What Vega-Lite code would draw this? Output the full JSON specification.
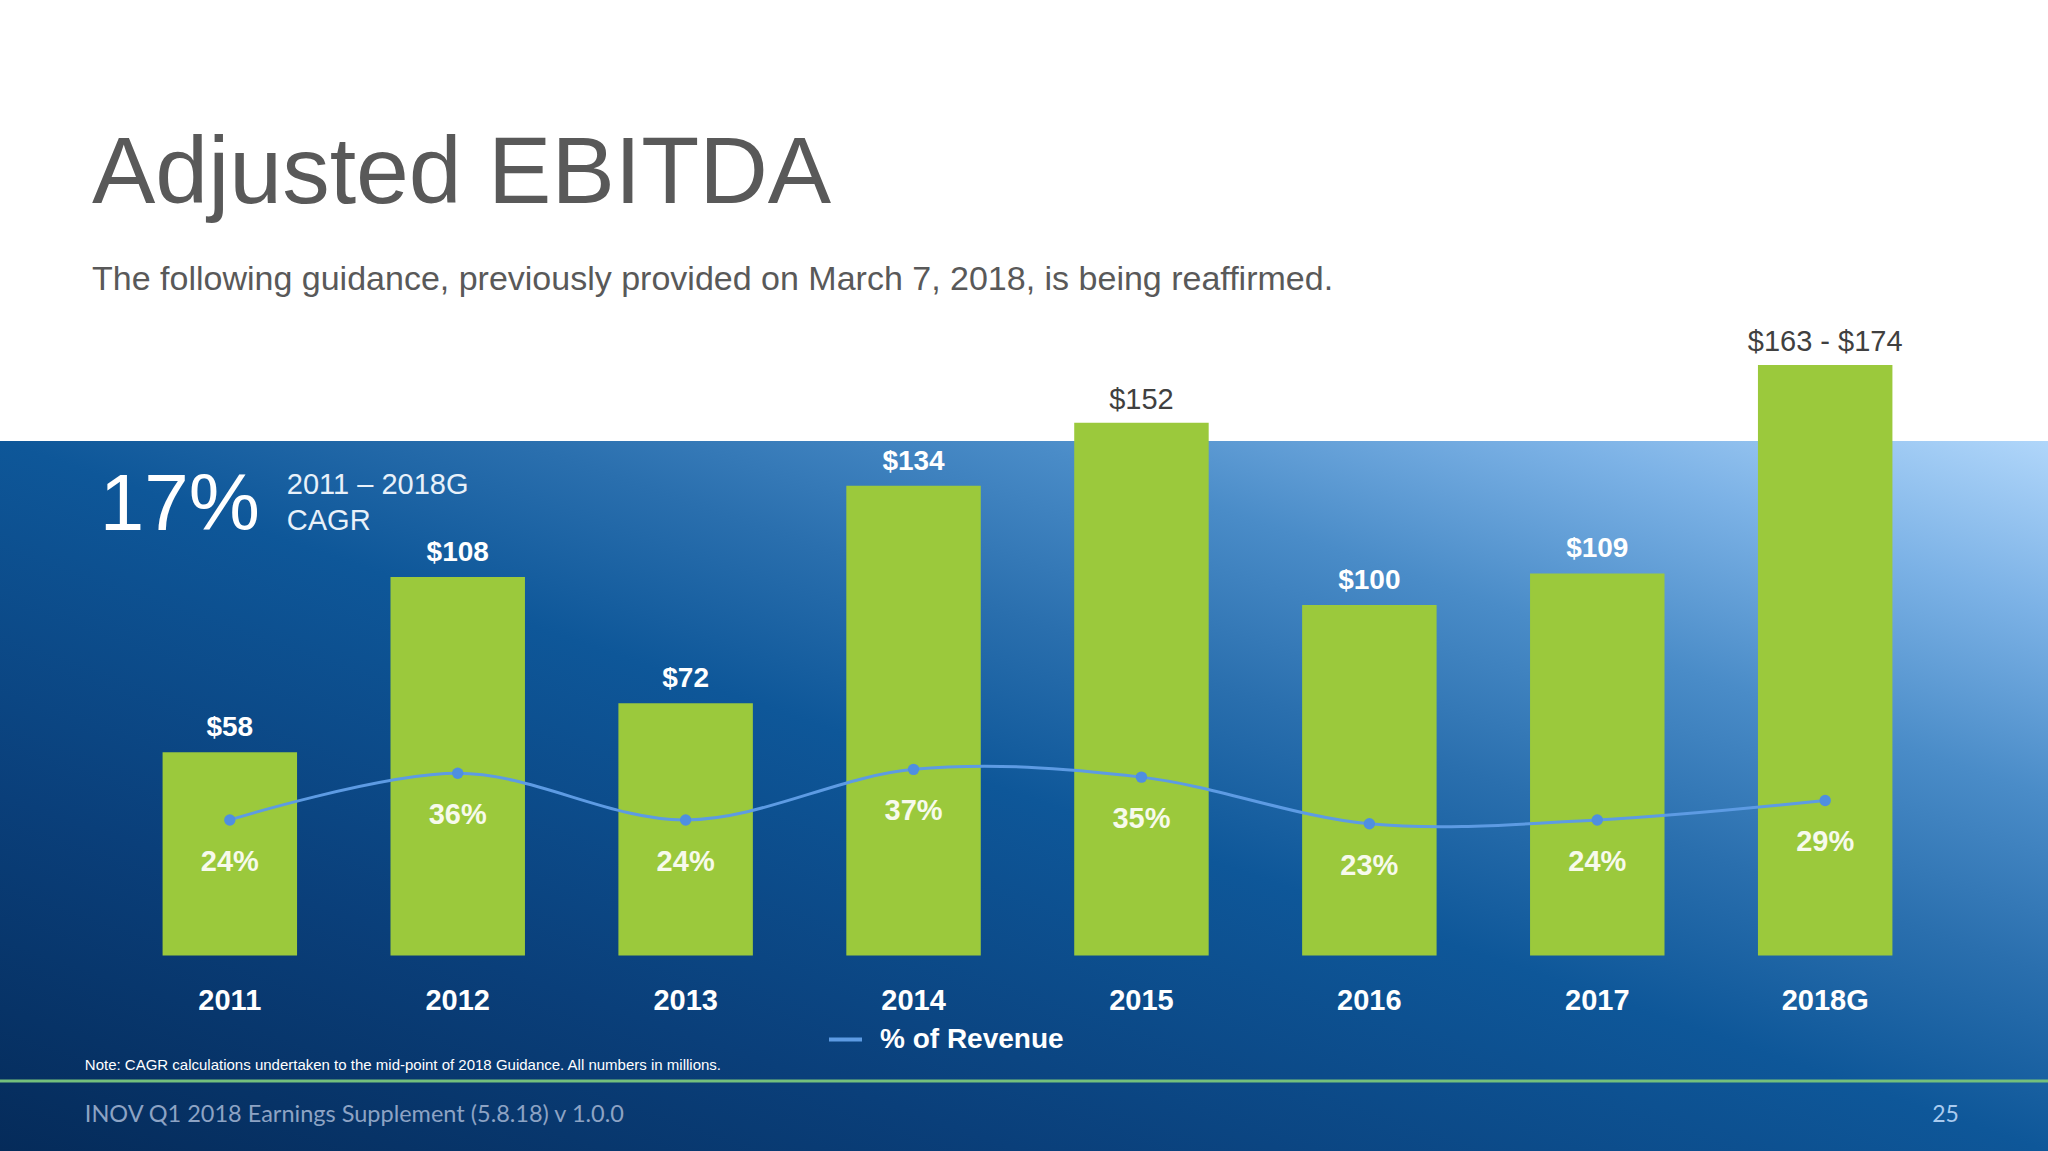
{
  "$schema": "https://vega.github.io/schema/vega-lite/v6.json",
  "width": 2048,
  "height": 710,
  "autosize": {"type": "none"},
  "padding": {"left": 0, "right": 0, "top": 441, "bottom": 0},
  "background": "white",
  "view": {
    "stroke": null,
    "fill": {
      "gradient": "linear",
      "x1": 0, "y1": 1, "x2": 1, "y2": 0,
      "stops": [
        {"offset": 0, "color": "#052b5a"},
        {"offset": 0.25, "color": "#0a3f7a"},
        {"offset": 0.5, "color": "#0e5799"},
        {"offset": 0.625, "color": "#2a6fae"},
        {"offset": 0.75, "color": "#4a8cc8"},
        {"offset": 0.88, "color": "#7cb2e6"},
        {"offset": 1, "color": "#b0d6fa"}
      ]
    }
  },
  "title": {
    "text": "Adjusted EBITDA",
    "subtitle": "The following guidance, previously provided on March 7, 2018, is being reaffirmed.",
    "anchor": "start",
    "frame": "group",
    "orient": "top",
    "dx": 92,
    "offset": 30,
    "font": "Liberation Sans",
    "fontSize": 95,
    "fontWeight": "normal",
    "color": "#595959",
    "subtitleFont": "Liberation Sans",
    "subtitleFontSize": 34,
    "subtitleColor": "#595959",
    "subtitlePadding": 40
  },
  "data": {
    "values": [
      {"year": "2011", "ebitda": 58, "label": "$58", "pct": 24, "pctLabel": "24%"},
      {"year": "2012", "ebitda": 108, "label": "$108", "pct": 36, "pctLabel": "36%"},
      {"year": "2013", "ebitda": 72, "label": "$72", "pct": 24, "pctLabel": "24%"},
      {"year": "2014", "ebitda": 134, "label": "$134", "pct": 37, "pctLabel": "37%"},
      {"year": "2015", "ebitda": 152, "label": "$152", "pct": 35, "pctLabel": "35%"},
      {"year": "2016", "ebitda": 100, "label": "$100", "pct": 23, "pctLabel": "23%"},
      {"year": "2017", "ebitda": 109, "label": "$109", "pct": 24, "pctLabel": "24%"},
      {"year": "2018G", "ebitda": 168.5, "label": "$163 - $174", "pct": 29, "pctLabel": "29%"}
    ]
  },
  "layer": [
    {
      "layer": [
        {
          "mark": {"type": "bar", "color": "#9bc93c"},
          "encoding": {
            "x": {
              "field": "year", "type": "nominal", "sort": null,
              "scale": {"type": "band", "paddingInner": 0.41, "paddingOuter": 0.698, "align": 0.511},
              "axis": {
                "orient": "bottom", "offset": -142, "labelPadding": 0, "tickSize": 0,
                "labelBaseline": "alphabetic", "labelFont": "Liberation Sans", "labelFontWeight": "bold",
                "labelFontSize": 29, "labelColor": "#ffffff", "domain": false, "ticks": false,
                "grid": false, "title": null, "labelAngle": 0
              }
            },
            "y": {"field": "ebitda", "type": "quantitative", "scale": {"domain": [-55.8, 146.8], "nice": false, "zero": false}, "axis": null},
            "y2": {"datum": 0}
          }
        },
        {
          "transform": [{"filter": "datum.ebitda <= 145"}],
          "mark": {"type": "text", "font": "Liberation Sans", "fontWeight": "bold", "fontSize": 28, "color": "#ffffff", "baseline": "alphabetic", "dy": -16},
          "encoding": {
            "x": {"field": "year", "type": "nominal", "sort": null},
            "y": {"field": "ebitda", "type": "quantitative", "scale": {"domain": [-55.8, 146.8], "nice": false, "zero": false}, "axis": null},
            "text": {"field": "label"}
          }
        },
        {
          "transform": [{"filter": "datum.ebitda > 145"}],
          "mark": {"type": "text", "font": "Liberation Sans", "fontWeight": "normal", "fontSize": 29, "color": "#404040", "baseline": "alphabetic", "dy": -14},
          "encoding": {
            "x": {"field": "year", "type": "nominal", "sort": null},
            "y": {"field": "ebitda", "type": "quantitative", "scale": {"domain": [-55.8, 146.8], "nice": false, "zero": false}, "axis": null},
            "text": {"field": "label"}
          }
        },
        {
          "data": {"values": [{"v": -35.8}]},
          "mark": {"type": "rule", "color": "#74c07c", "strokeWidth": 3},
          "encoding": {
            "y": {"field": "v", "type": "quantitative", "scale": {"domain": [-55.8, 146.8], "nice": false, "zero": false}, "axis": null}
          }
        },
        {
          "data": {"values": [{"t": "17%"}]},
          "mark": {"type": "text", "font": "Liberation Sans", "fontSize": 80, "color": "#ffffff", "align": "left", "baseline": "alphabetic", "dx": -130},
          "encoding": {
            "x": {"datum": "2011", "type": "nominal"},
            "y": {"datum": 121.4, "type": "quantitative", "scale": {"domain": [-55.8, 146.8], "nice": false, "zero": false}, "axis": null},
            "text": {"field": "t"}
          }
        },
        {
          "data": {"values": [{"t": "2011 – 2018G"}]},
          "mark": {"type": "text", "font": "Liberation Sans", "fontSize": 29, "color": "#e8f1fa", "align": "left", "baseline": "alphabetic", "dx": 57},
          "encoding": {
            "x": {"datum": "2011", "type": "nominal"},
            "y": {"datum": 131.7, "type": "quantitative", "scale": {"domain": [-55.8, 146.8], "nice": false, "zero": false}, "axis": null},
            "text": {"field": "t"}
          }
        },
        {
          "data": {"values": [{"t": "CAGR"}]},
          "mark": {"type": "text", "font": "Liberation Sans", "fontSize": 29, "color": "#e8f1fa", "align": "left", "baseline": "alphabetic", "dx": 57},
          "encoding": {
            "x": {"datum": "2011", "type": "nominal"},
            "y": {"datum": 121.4, "type": "quantitative", "scale": {"domain": [-55.8, 146.8], "nice": false, "zero": false}, "axis": null},
            "text": {"field": "t"}
          }
        },
        {
          "data": {"values": [{"t": "Note: CAGR calculations undertaken to the mid-point of 2018 Guidance.  All numbers in millions."}]},
          "mark": {"type": "text", "font": "Liberation Sans", "fontSize": 15, "color": "#ffffff", "align": "left", "baseline": "alphabetic", "dx": -145},
          "encoding": {
            "x": {"datum": "2011", "type": "nominal"},
            "y": {"datum": -32.7, "type": "quantitative", "scale": {"domain": [-55.8, 146.8], "nice": false, "zero": false}, "axis": null},
            "text": {"field": "t"}
          }
        },
        {
          "data": {"values": [{"t": "INOV Q1 2018 Earnings Supplement (5.8.18) v 1.0.0"}]},
          "mark": {"type": "text", "font": "Lato", "fontSize": 23.5, "color": "#8da3c4", "align": "left", "baseline": "alphabetic", "dx": -145},
          "encoding": {
            "x": {"datum": "2011", "type": "nominal"},
            "y": {"datum": -47.4, "type": "quantitative", "scale": {"domain": [-55.8, 146.8], "nice": false, "zero": false}, "axis": null},
            "text": {"field": "t"}
          }
        },
        {
          "data": {"values": [{"t": "25"}]},
          "mark": {"type": "text", "font": "Lato", "fontSize": 23, "color": "#a9cbef", "align": "left", "baseline": "alphabetic", "dx": 107},
          "encoding": {
            "x": {"datum": "2018G", "type": "nominal"},
            "y": {"datum": -47.4, "type": "quantitative", "scale": {"domain": [-55.8, 146.8], "nice": false, "zero": false}, "axis": null},
            "text": {"field": "t"}
          }
        }
      ]
    },
    {
      "layer": [
        {
          "mark": {"type": "line", "interpolate": "cardinal", "strokeWidth": 3},
          "encoding": {
            "x": {"field": "year", "type": "nominal", "sort": null},
            "y": {"field": "pct", "type": "quantitative", "scale": {"domain": [-61.1, 121.4], "nice": false, "zero": false}, "axis": null},
            "color": {
              "datum": "% of Revenue", "type": "nominal",
              "scale": {"range": ["#5d9be3"]},
              "legend": {
                "orient": "none", "legendX": 827, "legendY": 580, "title": null, "padding": 0,
                "symbolType": "stroke", "symbolSize": 1089, "symbolStrokeWidth": 4,
                "labelFont": "Liberation Sans", "labelFontSize": 28, "labelFontWeight": "bold",
                "labelColor": "#ffffff", "labelOffset": 16, "labelLimit": 500
              }
            }
          }
        },
        {
          "mark": {"type": "point", "filled": true, "size": 130, "color": "#4f8fe0", "opacity": 1},
          "encoding": {
            "x": {"field": "year", "type": "nominal", "sort": null},
            "y": {"field": "pct", "type": "quantitative", "scale": {"domain": [-61.1, 121.4], "nice": false, "zero": false}, "axis": null}
          }
        },
        {
          "mark": {"type": "text", "font": "Liberation Sans", "fontWeight": "bold", "fontSize": 29, "color": "#f7faec", "baseline": "alphabetic", "dy": 51},
          "encoding": {
            "x": {"field": "year", "type": "nominal", "sort": null},
            "y": {"field": "pct", "type": "quantitative", "scale": {"domain": [-61.1, 121.4], "nice": false, "zero": false}, "axis": null},
            "text": {"field": "pctLabel"}
          }
        }
      ]
    }
  ],
  "resolve": {"scale": {"y": "independent"}}
}
